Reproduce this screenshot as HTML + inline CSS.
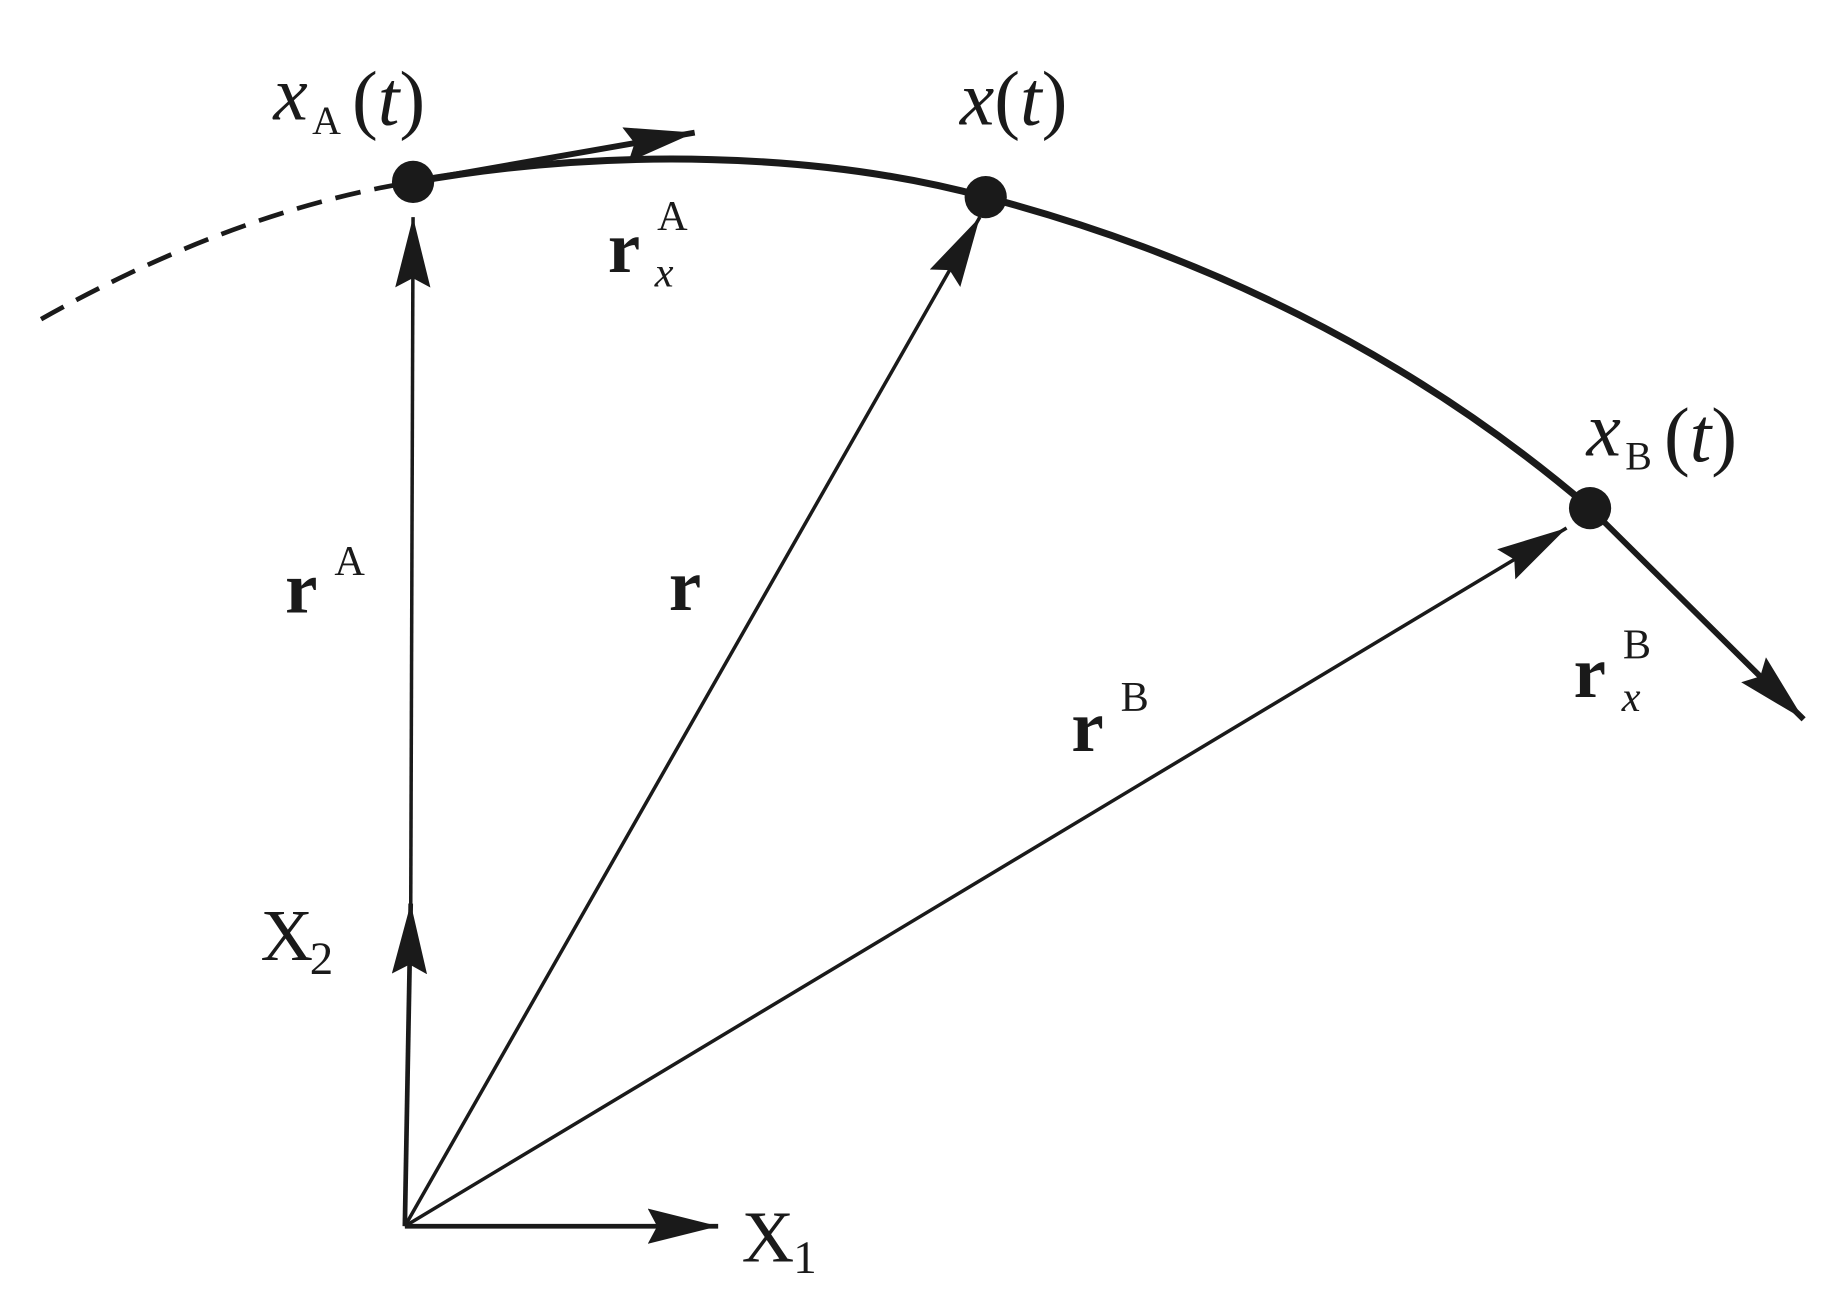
<!DOCTYPE html>
<html><head><meta charset="utf-8"><style>
html,body{margin:0;padding:0;background:#fff;}
svg{display:block;}
text{font-family:"Liberation Serif",serif;fill:#1a1a1a;}
</style></head><body>
<svg width="1840" height="1289" viewBox="0 0 1568 1098.5" preserveAspectRatio="none" xmlns="http://www.w3.org/2000/svg">
<defs>
<marker id="ah" viewBox="0 0 60 30" refX="60" refY="15" markerWidth="60" markerHeight="30" markerUnits="userSpaceOnUse" orient="auto">
<path d="M0,0 L60,15 L0,30 L8,15 Z" fill="#1a1a1a"/>
</marker>
</defs>
<g stroke="#1a1a1a" fill="none" stroke-linecap="butt">
<path d="M35,272 Q190,185 335,158" stroke-width="4" stroke-dasharray="22,12"/>
<path d="M352,155 C520,125 700,130 840,168 C1020,215 1200,300 1355,433" stroke-width="6"/>
<line x1="352" y1="155" x2="592" y2="113" stroke-width="5" marker-end="url(#ah)"/>
<line x1="345" y1="1045" x2="612" y2="1045" stroke-width="4" marker-end="url(#ah)"/>
<line x1="345" y1="1045" x2="350" y2="770" stroke-width="4" marker-end="url(#ah)"/>
<line x1="350" y1="780" x2="352" y2="185" stroke-width="3" marker-end="url(#ah)"/>
<line x1="345" y1="1045" x2="835" y2="185" stroke-width="3" marker-end="url(#ah)"/>
<line x1="345" y1="1045" x2="1335" y2="450" stroke-width="3" marker-end="url(#ah)"/>
<line x1="1355" y1="433" x2="1537" y2="613" stroke-width="5" marker-end="url(#ah)"/>
</g>
<g fill="#1a1a1a">
<circle cx="352" cy="155" r="18"/>
<circle cx="840" cy="168" r="18"/>
<circle cx="1355" cy="433" r="18"/>
</g>
<text x="233" y="102" font-size="66" font-style="italic">x</text>
<text x="266" y="114" font-size="34">A</text>
<text x="300" y="106" font-size="66">(<tspan font-style="italic">t</tspan>)</text>
<text x="818" y="106" font-size="66"><tspan font-style="italic">x</tspan>(<tspan font-style="italic">t</tspan>)</text>
<text x="1352" y="388" font-size="66" font-style="italic">x</text>
<text x="1385" y="400" font-size="34">B</text>
<text x="1418" y="393" font-size="66">(<tspan font-style="italic">t</tspan>)</text>
<text x="518" y="232" font-size="62" font-weight="bold">r</text>
<text x="560" y="196" font-size="36">A</text>
<text x="558" y="244" font-size="36" font-style="italic">x</text>
<text x="243" y="522" font-size="62" font-weight="bold">r</text>
<text x="285" y="490" font-size="36">A</text>
<text x="570" y="520" font-size="62" font-weight="bold">r</text>
<text x="913" y="640" font-size="62" font-weight="bold">r</text>
<text x="955" y="606" font-size="36">B</text>
<text x="1341" y="594" font-size="62" font-weight="bold">r</text>
<text x="1383" y="561" font-size="36">B</text>
<text x="1382" y="606" font-size="36" font-style="italic">x</text>
<text x="222" y="818" font-size="62">X</text>
<text x="264" y="830" font-size="40">2</text>
<text x="632" y="1075" font-size="62">X</text>
<text x="676" y="1085" font-size="40">1</text>
</svg>
</body></html>
